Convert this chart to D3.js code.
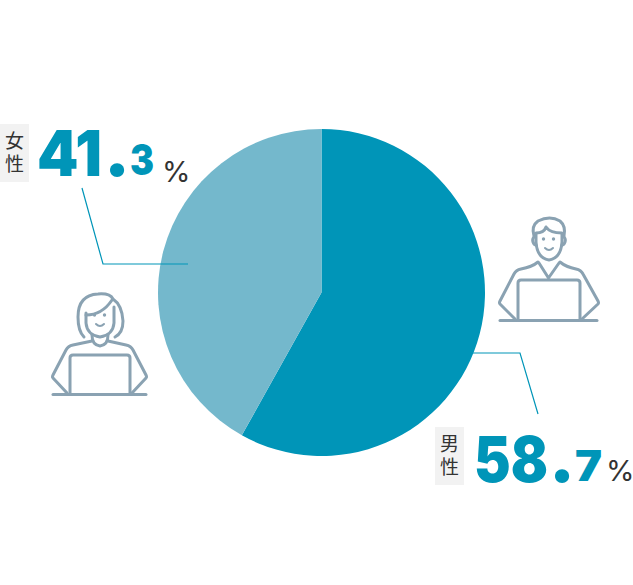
<!DOCTYPE html>
<html>
<head>
<meta charset="utf-8">
<script src="https://cdn.jsdelivr.net/npm/d3@7"></script>
<style>
  html, body { margin: 0; padding: 0; background: #fff; }
  svg { display: block; }
  .icon path, .icon circle { fill: none; stroke: #8aa2b2; stroke-width: 3; stroke-linecap: round; stroke-linejoin: round; }
  .icon circle { fill: #8aa2b2; stroke: none; }
</style>
</head>
<body>
<div id="chart"></div>
<script>
var categories = ["男性", "女性"];
var values = [58.7, 41.3];
// the slices in the picture are not cut at the printed percentages, these are read off the wedge edge
var sliceShares = [58.1, 41.9];

var colorTheme = ["#0095b8", "#74b8cc"];
var labelColor = "#333333";
var chartSize = { width: 633, height: 585 };
var center = { x: 321.5, y: 292.5 };
var radius = 163.5;

var svg = d3.select("#chart")
  .append("svg")
  .attr("width", chartSize.width)
  .attr("height", chartSize.height);

var pie = d3.pie().sort(null);
var arc = d3.arc().innerRadius(0).outerRadius(radius);

svg.append("g")
  .attr("transform", "translate(" + center.x + "," + center.y + ")")
  .selectAll("path")
  .data(pie(sliceShares))
  .enter()
  .append("path")
  .attr("d", arc)
  .attr("fill", function (d, i) { return colorTheme[i]; });

// label layout, same order as categories
var layout = [
  { leader: [[473, 353], [520, 353], [538, 414]], badge: [435, 427], whole: 474, wholeW: 74, wholeY: 482, dot: 549, dec: 575, decW: 27, decY: 481, pct: 606, pctY: 481 },
  { leader: [[82, 188], [103, 264], [188, 264]], badge: [0, 124], whole: 37, wholeW: 65, wholeY: 176, dot: 104, dec: 130, decW: 24, decY: 175, pct: 162, pctY: 182 }
];

layout.forEach(function (l, i) {
  svg.append("path")
    .attr("d", d3.line()(l.leader))
    .attr("fill", "none")
    .attr("stroke", colorTheme[0])
    .attr("stroke-width", 1.2);

  svg.append("rect")
    .attr("x", l.badge[0])
    .attr("y", l.badge[1])
    .attr("width", 29)
    .attr("height", 58)
    .attr("fill", "#f2f2f2");

  svg.append("text")
    .attr("x", l.badge[0] + 14.5)
    .attr("y", l.badge[1] + 7)
    .attr("font-family", "'Noto Sans CJK JP'")
    .attr("font-size", 19)
    .attr("fill", labelColor)
    .style("writing-mode", "vertical-rl")
    .style("letter-spacing", "4.5px")
    .text(categories[i]);

  var parts = values[i].toFixed(1).split(".");
  var big = function (x, y, size, str, w) {
    var t = svg.append("text")
      .attr("x", x)
      .attr("y", y)
      .attr("font-family", "Inter")
      .attr("font-weight", 900)
      .attr("font-size", size)
      .attr("fill", colorTheme[0])
      .text(str);
    if (w) t.attr("textLength", w).attr("lengthAdjust", "spacingAndGlyphs");
  };
  big(l.whole, l.wholeY, 63, parts[0], l.wholeW);
  big(l.dot, l.wholeY, 70, ".");
  big(l.dec, l.decY, 42, parts[1], l.decW);

  svg.append("text")
    .attr("x", l.pct)
    .attr("y", l.pctY)
    .attr("font-family", "Inter")
    .attr("font-weight", 400)
    .attr("font-size", 29)
    .attr("fill", labelColor)
    .text("%");
});

// icons
var woman = svg.append("g").attr("class", "icon").attr("transform", "translate(40,285)");
[
  "M13,109.5H106",
  "M30,109V73Q30,70 33,70H87Q90,70 90,73V109",
  "M27,108L13,93Q12,92 13,90L26,65Q28,61 33,60L52,56",
  "M92,108L106,93Q107,92 106,90L93,65Q91,61 86,60L68,56",
  "M52,50Q52,60 60,61Q68,60 68,50",
  "M46,28V38Q47,50 60,52Q73,50 74,38V22",
  "M46,30Q62,30 72,15",
  "M44,52Q38,46 38,32Q38,10 58,9Q70,8 73,14Q82,20 83,36Q83,48 75,52"
].forEach(function (d) { woman.append("path").attr("d", d); });
[[54.5, 30], [64.5, 30]].forEach(function (p) {
  woman.append("circle").attr("cx", p[0]).attr("cy", p[1]).attr("r", 1.7);
});
woman.append("path").attr("d", "M56,39Q60,43 64,39").style("stroke-width", 2);

var man = svg.append("g").attr("class", "icon").attr("transform", "translate(490,210)");
[
  "M10,110.5H107",
  "M28,110V73Q28,70 31,70H87Q90,70 90,73V110",
  "M25,109L10,94Q9,93 10,91L24,64Q26,60 31,59Q42,57 48,52",
  "M92,109L108,94Q109,93 108,91L93,64Q91,60 86,59Q76,57 70,52",
  "M49,53L58.5,68L69,53",
  "M46,24V32Q47,48 59,50Q71,48 72,32V24",
  "M44,26Q41,16 48,11Q60,5 70,11Q76,16 74,26",
  "M46,23Q54,23 56,17Q60,23 72,23",
  "M44,27Q42,29 43,32Q44,35 46,35",
  "M74,27Q76,29 75,32Q74,35 72,35"
].forEach(function (d) { man.append("path").attr("d", d); });
[[53.5, 29], [63.5, 29]].forEach(function (p) {
  man.append("circle").attr("cx", p[0]).attr("cy", p[1]).attr("r", 1.7);
});
man.append("path").attr("d", "M55,38Q59,42 63,38").style("stroke-width", 2);
</script>
</body>
</html>
